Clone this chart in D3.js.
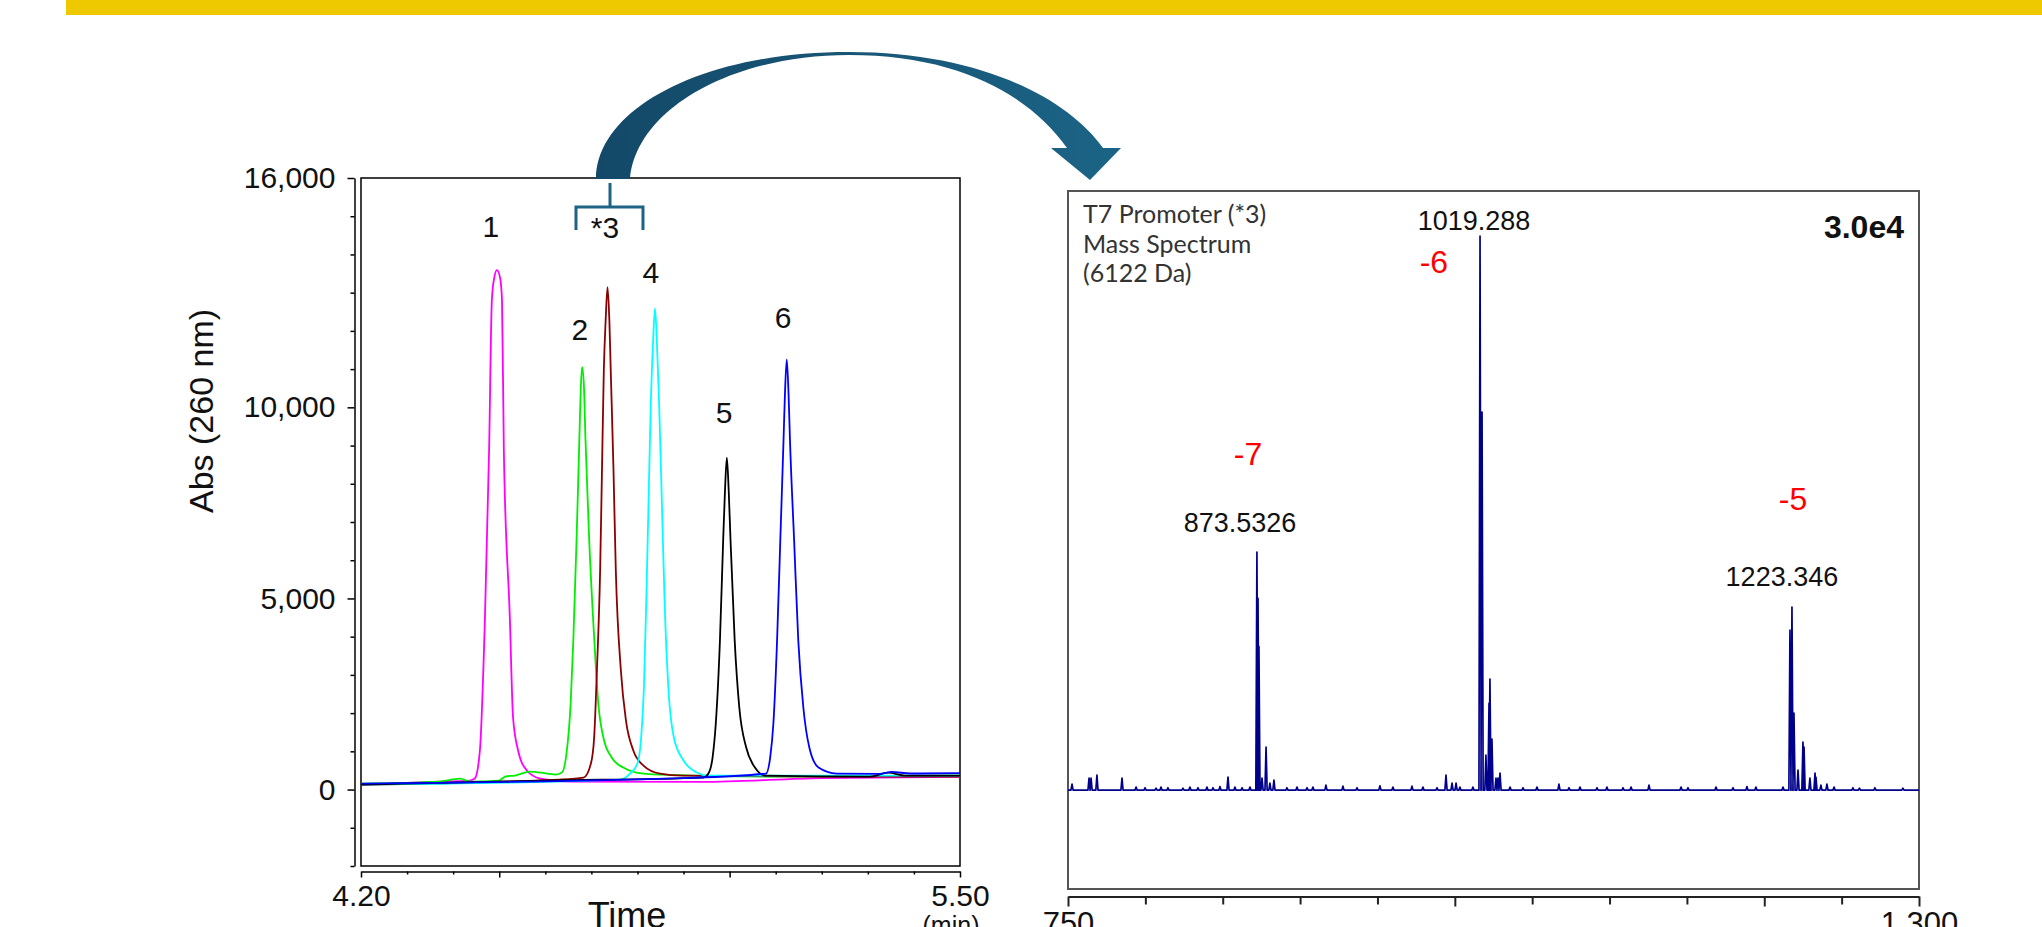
<!DOCTYPE html>
<html>
<head>
<meta charset="utf-8">
<script src="https://cdn.jsdelivr.net/npm/d3@7/dist/d3.min.js"></script>
<style>
  body { margin: 0; background: #fff; }
  svg { display: block; }
</style>
</head>
<body>
<div id="chart"></div>
<script>
// chromatogram traces, [time (min), Abs 260 nm]
const trace1 = [[4.20,131],[4.37,209],[4.436,236],[4.447,288],[4.458,1021],[4.469,4504],[4.478,8877],[4.484,12805],[4.489,13381],[4.495,13591],[4.502,13381],[4.506,12805],[4.510,8877],[4.523,4504],[4.530,1885],[4.541,1021],[4.560,498],[4.589,288],[4.654,209],[4.94,200],[5.20,300],[5.50,330]];
const trace2 = [[4.20,157],[4.37,209],[4.415,288],[4.437,209],[4.50,236],[4.513,340],[4.534,367],[4.567,471],[4.604,419],[4.623,393],[4.636,445],[4.646,943],[4.655,2252],[4.661,3980],[4.668,6599],[4.674,9217],[4.677,10500],[4.680,11050],[4.684,10500],[4.687,9217],[4.695,6599],[4.706,3980],[4.715,2252],[4.726,1362],[4.744,838],[4.769,576],[4.798,445],[4.849,393],[5.10,340],[5.50,367]];
const trace3 = [[4.20,131],[4.63,262],[4.683,314],[4.699,681],[4.706,1362],[4.712,3116],[4.719,5735],[4.723,8353],[4.727,10972],[4.731,12281],[4.735,13145],[4.739,12281],[4.742,10972],[4.748,8353],[4.753,5735],[4.764,3116],[4.775,1807],[4.791,1021],[4.813,628],[4.849,419],[4.899,367],[5.20,340],[5.50,340]];
const trace4 = [[4.20,131],[4.762,262],[4.784,419],[4.800,681],[4.808,1362],[4.814,2671],[4.819,4871],[4.824,7489],[4.829,10108],[4.834,11757],[4.838,12588],[4.842,11757],[4.847,10108],[4.853,7489],[4.859,4871],[4.867,2671],[4.879,1362],[4.900,759],[4.929,445],[4.950,367],[5.50,367]];
const trace5 = [[4.20,131],[4.60,236],[4.943,314],[4.954,419],[4.963,838],[4.970,1728],[4.979,3902],[4.986,6520],[4.990,7830],[4.994,8686],[4.998,7830],[5.002,6520],[5.011,3902],[5.021,2147],[5.036,1100],[5.055,576],[5.077,367],[5.305,340],[5.344,445],[5.381,367],[5.50,367]];
const trace6 = [[4.20,157],[4.90,300],[5.079,419],[5.088,838],[5.095,1728],[5.103,3902],[5.110,6520],[5.117,9139],[5.120,10317],[5.124,11252],[5.128,10317],[5.131,9139],[5.140,6520],[5.149,3902],[5.160,2147],[5.173,1100],[5.193,576],[5.232,419],[5.326,410],[5.352,460],[5.392,420],[5.50,430]];

const traceColors = ['#ff00ff', '#00ee00', '#8b0000', '#00ffff', '#000000', '#0000ff'];

// peak numbers, [text, time, abs]
const peakLabels = [['1',4.482,14455],['2',4.675,11757],['*3',4.7295,14429],['4',4.829,13250],['5',4.988,9584],['6',5.116,12072]];

const yTicksA = d3.range(-2000, 16001, 1000);
const yLabelsA = [0, 5000, 10000, 16000];
const xTicksA = d3.range(42, 56).map((d) => d / 10);
const xMajorA = [4.2, 4.5, 5.0, 5.5];
const xLabelsA = [4.2, 5.5];

// mass spectrum sticks, [m/z, intensity]
const mainPeaks = [[752.6,300],[763.6,600],[764.9,600],[768.7,750],[784.9,600],[853.4,650],[872.1,11920],[872.8,9600],[873.4,7200],[875.4,600],[878.0,2150],[880.5,350],[883.1,500],[994.3,750],[998.2,350],[1000.8,350],[1016.3,27740],[1017.6,18930],[1020.1,1750],[1022.1,4355],[1022.7,5560],[1024.0,2555],[1026.6,600],[1027.9,600],[1029.2,850],[1067.3,300],[1125.5,250],[1216.6,8010],[1217.9,9165],[1219.2,3855],[1221.8,1000],[1225.0,2405],[1225.7,2150],[1229.5,600],[1232.8,850],[1233.4,650],[1236.6,250],[1240.5,300],[1245.1,150]];
const noisePeaks = [[794.0,150],[799.8,120],[806.9,100],[810.1,150],[814.6,120],[824.3,100],[828.8,150],[834.0,120],[839.8,150],[843.7,120],[848.2,180],[857.9,150],[862.5,120],[867.6,150],[891.5,120],[898.0,150],[904.5,120],[908.3,150],[916.7,250],[927.7,200],[936.8,120],[951.6,220],[960.0,150],[972.3,200],[979.4,150],[988.5,120],[1003.3,150],[1011.7,150],[1035.7,150],[1044.1,120],[1053.1,150],[1073.8,120],[1080.9,150],[1091.9,120],[1098.3,150],[1108.7,120],[1113.9,150],[1146.2,150],[1150.7,120],[1168.8,150],[1179.8,120],[1188.8,180],[1194.6,150],[1212.1,150],[1257.3,120],[1261.5,100],[1271.5,120],[1289.6,100]];

// labels on the spectrum, [text, m/z, intensity]
const massLabels = [['873.5326',861.2,12920],['1019.288',1012.4,28040],['1223.346',1211.4,10220]];
const chargeLabels = [['-7',866.3,16280],['-6',986.5,25890],['-5',1218.6,14030]];
const infoLines = ['T7 Promoter (*3)', 'Mass Spectrum', '(6122 Da)'];

const xTicksB = d3.range(750, 1301, 50);
const xMajorB = [750, 1000, 1200, 1300];
const xLabelsB = [750, 1300];

const width = 2042, height = 927;
const arial = '"Liberation Sans", Arial, sans-serif';

const svg = d3.select('#chart').append('svg')
  .attr('width', width)
  .attr('height', height)
  .style('background', '#fff');

// top yellow band
svg.append('rect').attr('x', 66).attr('y', 0).attr('width', width - 66).attr('height', 15).attr('fill', '#efc900');

// ---------- left: chromatogram ----------
const xA = d3.scaleLinear().domain([4.2, 5.5]).range([361, 960]);
const yA = d3.scaleLinear().domain([-2000, 16000]).range([866, 178]);

const gA = svg.append('g');

gA.append('rect')
  .attr('x', xA(4.2)).attr('y', yA(16000))
  .attr('width', xA(5.5) - xA(4.2)).attr('height', yA(-2000) - yA(16000))
  .attr('fill', 'none').attr('stroke', '#000').attr('stroke-width', 1.5);

const yAxisA = gA.append('g')
  .attr('transform', 'translate(354.5,0)')
  .call(d3.axisLeft(yA).tickValues(yTicksA).tickSize(4).tickSizeOuter(0).tickPadding(15)
    .tickFormat((d) => (yLabelsA.includes(d) ? d3.format(',')(d) : '')));
yAxisA.selectAll('.tick line').filter((d) => yLabelsA.includes(d)).attr('x2', -7);

const xAxisA = gA.append('g')
  .attr('transform', 'translate(0,871.5)')
  .call(d3.axisBottom(xA).tickValues(xTicksA).tickSize(3).tickSizeOuter(0).tickPadding(10)
    .tickFormat((d) => (xLabelsA.some((v) => Math.abs(v - d) < 1e-6) ? d3.format('.2f')(d) : '')));
xAxisA.selectAll('.tick line').filter((d) => xMajorA.some((v) => Math.abs(v - d) < 1e-6)).attr('y2', 6);

[yAxisA, xAxisA].forEach((ax) => {
  ax.selectAll('path, line').attr('stroke', '#000').attr('stroke-width', 1.5);
  ax.selectAll('text').attr('font-family', arial).attr('font-size', 30).attr('fill', '#111');
});

gA.append('text')
  .attr('transform', 'translate(213,411) rotate(-90)')
  .attr('text-anchor', 'middle')
  .attr('font-family', arial).attr('font-size', 34).attr('fill', '#111')
  .text('Abs (260 nm)');

gA.append('text')
  .attr('x', 627).attr('y', 928).attr('text-anchor', 'middle')
  .attr('font-family', arial).attr('font-size', 36).attr('fill', '#111')
  .text('Time');

gA.append('text')
  .attr('x', 951).attr('y', 934).attr('text-anchor', 'middle')
  .attr('font-family', arial).attr('font-size', 25).attr('fill', '#111')
  .text('(min)');

const lineA = d3.line()
  .x((d) => xA(d[0]))
  .y((d) => yA(d[1]))
  .curve(d3.curveMonotoneX);

[trace1, trace2, trace3, trace4, trace5, trace6].forEach((tr, i) => {
  gA.append('path')
    .datum(tr)
    .attr('d', lineA)
    .attr('fill', 'none')
    .attr('stroke', traceColors[i])
    .attr('stroke-width', 1.8);
});

gA.selectAll('text.peak')
  .data(peakLabels)
  .join('text')
  .attr('class', 'peak')
  .attr('x', (d) => xA(d[1]))
  .attr('y', (d) => yA(d[2]))
  .attr('text-anchor', 'middle')
  .attr('font-family', arial).attr('font-size', 30).attr('fill', '#111')
  .text((d) => d[0]);

// bracket over peak *3
const bracket = [[4.6666, 14639], [4.6666, 15241], [4.812, 15241], [4.812, 14639]];
gA.append('path')
  .attr('d', d3.line().x((d) => xA(d[0])).y((d) => yA(d[1]))(bracket))
  .attr('fill', 'none').attr('stroke', '#1f6384').attr('stroke-width', 3);
gA.append('line')
  .attr('x1', xA(4.7404)).attr('x2', xA(4.7404))
  .attr('y1', yA(15869)).attr('y2', yA(15241))
  .attr('stroke', '#1f6384').attr('stroke-width', 3);

// ---------- curved arrow ----------
const defs = svg.append('defs');
const grad = defs.append('linearGradient').attr('id', 'arrowGrad')
  .attr('gradientUnits', 'userSpaceOnUse')
  .attr('x1', 596).attr('y1', 0).attr('x2', 1121).attr('y2', 0);
grad.append('stop').attr('offset', 0).attr('stop-color', '#134868');
grad.append('stop').attr('offset', 0.5).attr('stop-color', '#185676');
grad.append('stop').attr('offset', 1).attr('stop-color', '#1b6486');

svg.append('path')
  .attr('d', 'M596,179 C596,110 700,52 849,52 C975,52 1065,95 1103,148 L1121,148 L1090,180 L1051,148 L1067,148 C1030,96 960,55 849,55 C730,55 636,110 630,179 Z')
  .attr('fill', 'url(#arrowGrad)');

// ---------- right: mass spectrum ----------
const xB = d3.scaleLinear().domain([750, 1300]).range([1068, 1919]);
const yB = d3.scaleLinear().domain([-4950, 30000]).range([889, 191]);

const gB = svg.append('g');

gB.append('rect')
  .attr('x', xB(750)).attr('y', yB(30000))
  .attr('width', xB(1300) - xB(750)).attr('height', yB(-4950) - yB(30000))
  .attr('fill', 'none').attr('stroke', '#555').attr('stroke-width', 2);

const xAxisB = gB.append('g')
  .attr('transform', 'translate(0,896.5)')
  .call(d3.axisBottom(xB).tickValues(xTicksB).tickSize(8).tickSizeOuter(0).tickPadding(7)
    .tickFormat((d) => (xLabelsB.includes(d) ? d3.format(',')(d) : '')));
xAxisB.selectAll('.tick line').filter((d) => xMajorB.includes(d)).attr('y2', 10);
xAxisB.selectAll('path, line').attr('stroke', '#222').attr('stroke-width', 2);
xAxisB.selectAll('text').attr('font-family', arial).attr('font-size', 31).attr('fill', '#111');

const hw = 0.7;
const sticks = mainPeaks.concat(noisePeaks).sort((a, b) => a[0] - b[0]);
const specPts = [[750, 0]];
sticks.forEach(([mz, inten]) => {
  specPts.push([mz - hw, 0], [mz, inten], [mz + hw, 0]);
});
specPts.push([1300, 0]);

gB.append('path')
  .datum(specPts)
  .attr('d', d3.line().x((d) => xB(d[0])).y((d) => yB(d[1])))
  .attr('fill', 'none')
  .attr('stroke', '#00008b')
  .attr('stroke-width', 1.7)
  .attr('stroke-linejoin', 'round');

gB.selectAll('text.mass')
  .data(massLabels)
  .join('text')
  .attr('class', 'mass')
  .attr('x', (d) => xB(d[1]))
  .attr('y', (d) => yB(d[2]))
  .attr('text-anchor', 'middle')
  .attr('font-family', arial).attr('font-size', 27).attr('fill', '#111')
  .text((d) => d[0]);

gB.selectAll('text.charge')
  .data(chargeLabels)
  .join('text')
  .attr('class', 'charge')
  .attr('x', (d) => xB(d[1]))
  .attr('y', (d) => yB(d[2]))
  .attr('text-anchor', 'middle')
  .attr('font-family', arial).attr('font-size', 32).attr('fill', '#ff0000')
  .text((d) => d[0]);

gB.append('text')
  .attr('x', 1904).attr('y', 238).attr('text-anchor', 'end')
  .attr('font-family', arial).attr('font-size', 32).attr('font-weight', 'bold').attr('fill', '#111')
  .text('3.0e4');

gB.selectAll('text.info')
  .data(infoLines)
  .join('text')
  .attr('class', 'info')
  .attr('x', 1083)
  .attr('y', (d, i) => 223 + i * 29.5)
  .attr('font-family', 'Lato, "Open Sans", sans-serif').attr('font-size', 25).attr('fill', '#333')
  .text((d) => d);
</script>
</body>
</html>
